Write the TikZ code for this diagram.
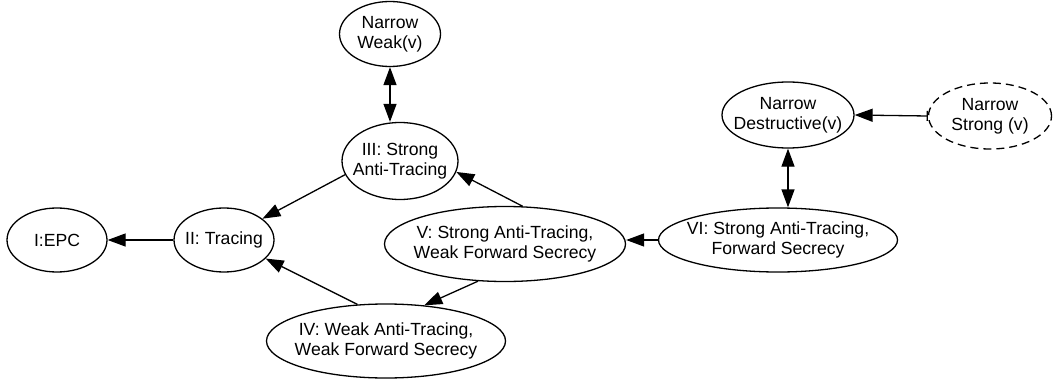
\documentclass[tikz,border=0pt]{standalone}
\usepackage{fontspec}
\setmainfont{Liberation Sans}
\usetikzlibrary{shapes.geometric, arrows.meta}

\begin{document}
\begin{tikzpicture}[x=1pt, y=-1pt, line width=1.3pt,
  font=\fontsize{17.6}{20}\selectfont,
  level/.style={draw, ellipse, inner sep=0pt, label={[align=center]center:#1}},
  arr/.style={-{Triangle[length=18pt, width=13pt]}},
  both/.style={{Triangle[length=18pt, width=13pt]}-{Triangle[length=18pt, width=13pt]}}]

\useasboundingbox ( 0, 0 ) rectangle ( 1054, 385 );

% Levels
\node[level={I:EPC}, minimum width=100pt, minimum height=64pt] (epc) at ( 57, 240 ) {};
\node[level={II: Tracing}, minimum width=100pt, minimum height=64pt] (tracing) at ( 224, 240 ) {};
\node[level={III: Strong\\Anti-Tracing}, minimum width=116pt, minimum height=77pt] (strong) at ( 400, 161 ) {};
\node[level={IV: Weak Anti-Tracing,\\Weak Forward Secrecy}, minimum width=239pt, minimum height=74pt] (weakfs) at ( 386, 341 ) {};
\node[level={V: Strong Anti-Tracing,\\Weak Forward Secrecy}, minimum width=241pt, minimum height=75pt] (strongwfs) at ( 505, 244 ) {};
\node[level={VI: Strong Anti-Tracing,\\Forward Secrecy}, minimum width=239pt, minimum height=64pt] (strongfs) at ( 778, 240 ) {};

% Narrow variants
\node[level={Narrow\\Weak(v)}, minimum width=101pt, minimum height=65pt] (nweak) at ( 390, 34 ) {};
\node[level={Narrow\\Destructive(v)}, minimum width=132pt, minimum height=66pt] (ndest) at ( 788, 115 ) {};
\node[level={Narrow\\Strong (v)}, dash pattern=on 8pt off 5pt, minimum width=123pt, minimum height=66pt] (nstrong) at ( 990, 116 ) {};

% Implications
\draw[arr] (tracing.west) -- (epc.east);
\draw[arr] (strong.194) -- (tracing.29);
\draw[arr] (weakfs.128) -- (tracing.-24);
\draw[arr] (strongwfs.65) -- (strong.-11);
\draw[arr] (strongwfs.234) -- (weakfs.43);
\draw[arr] (strongfs.west) -- (strongwfs.east |- strongfs.west);

% Equivalences
\draw[both] (nweak.south) -- (nweak.south |- strong.north);
\draw[both] (ndest.south) -- (ndest.south |- strongfs.north);
\draw[{Bar[width=10pt]}-{Triangle[length=18pt, width=13pt]}] (nstrong.west) -- (ndest.east);

\end{tikzpicture}
\end{document}
